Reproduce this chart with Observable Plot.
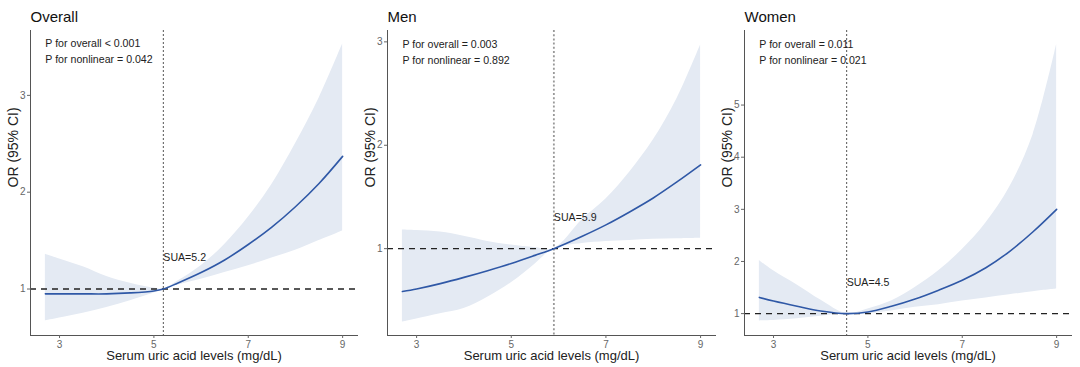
<!DOCTYPE html>
<html><head><meta charset="utf-8">
<script src="https://cdn.jsdelivr.net/npm/d3@7"></script>
<script src="https://cdn.jsdelivr.net/npm/@observablehq/plot@0.6"></script>
<style>
body{margin:0;background:#fff;font-family:"Liberation Sans",Arial,sans-serif;}
#wrap{position:relative;width:1080px;height:367px;overflow:hidden;}
.panel{position:absolute;top:0;}
</style></head><body><div id="wrap"></div>
<script>
// ---------- data ----------
const panelTitles = ["Overall", "Men", "Women"];
const xTickValues = [3, 5, 7, 9];
const xTitle = "Serum uric acid levels (mg/dL)";
const yTitle = "OR (95% CI)";

const overallX  = [2.7, 3.0, 3.5, 4.0, 4.5, 5.0, 5.2, 5.5, 6.0, 6.5, 7.0, 7.5, 8.0, 8.5, 9.0];
const overallOR = [0.95, 0.95, 0.95, 0.95, 0.96, 0.98, 1.0, 1.06, 1.17, 1.30, 1.46, 1.64, 1.85, 2.09, 2.37];
const overallLo = [0.67, 0.70, 0.75, 0.81, 0.88, 0.96, 1.0, 1.04, 1.10, 1.17, 1.24, 1.32, 1.40, 1.50, 1.60];
const overallHi = [1.36, 1.31, 1.23, 1.13, 1.06, 1.01, 1.0, 1.08, 1.24, 1.46, 1.74, 2.08, 2.50, 2.97, 3.53];

const menX  = [2.7, 3.0, 3.5, 4.0, 4.5, 5.0, 5.5, 5.9, 6.5, 7.0, 7.5, 8.0, 8.5, 9.0];
const menOR = [0.585, 0.61, 0.662, 0.722, 0.787, 0.857, 0.935, 1.0, 1.12, 1.23, 1.355, 1.49, 1.645, 1.81];
const menLo = [0.29, 0.32, 0.37, 0.42, 0.53, 0.67, 0.85, 1.0, 1.05, 1.07, 1.08, 1.09, 1.095, 1.10];
const menHi = [1.18, 1.175, 1.16, 1.12, 1.07, 1.035, 1.01, 1.0, 1.28, 1.48, 1.74, 2.05, 2.45, 2.97];

const womenX  = [2.7, 3.0, 3.5, 4.0, 4.55, 5.0, 5.5, 6.0, 6.5, 7.0, 7.5, 8.0, 8.5, 9.0];
const womenOR = [1.31, 1.24, 1.14, 1.05, 1.0, 1.03, 1.14, 1.28, 1.45, 1.64, 1.88, 2.19, 2.57, 3.0];
const womenLo = [0.86, 0.87, 0.90, 0.95, 1.0, 1.0, 1.05, 1.12, 1.17, 1.24, 1.30, 1.36, 1.42, 1.47];
const womenHi = [2.02, 1.82, 1.55, 1.26, 1.0, 1.09, 1.24, 1.50, 1.82, 2.23, 2.74, 3.42, 4.43, 6.16];

const yTickValues = [[1, 2, 3], [1, 2, 3], [1, 2, 3, 4, 5]];
const yDomains = [[0.52, 3.67], [0.16, 3.11], [0.58, 6.43]];
const refX = [5.2, 5.9, 4.55];
const refLabels = ["SUA=5.2", "SUA=5.9", "SUA=4.5"];
const refLabelY = [1.32, 1.30, 1.60];
const pOverall = ["P for overall < 0.001", "P for overall = 0.003", "P for overall = 0.011"];
const pNonlinear = ["P for nonlinear = 0.042", "P for nonlinear = 0.892", "P for nonlinear = 0.021"];

// ---------- layout ----------
const layouts = [
  {left: 0,   width: 360, ml: 30, mr: 3, dot: {stroke: "#555", strokeWidth: 1, strokeDasharray: "2,2"}},
  {left: 360, width: 358, ml: 27, mr: 3, dot: {stroke: "#999", strokeWidth: 1.8, strokeDasharray: "2,2.2"}},
  {left: 715, width: 360, ml: 29, mr: 4, dot: {stroke: "#555", strokeWidth: 1, strokeDasharray: "2,2"}}
];
const series = [
  [overallX, overallOR, overallLo, overallHi],
  [menX, menOR, menLo, menHi],
  [womenX, womenOR, womenLo, womenHi]
];
const FONT = "Liberation Sans, Arial, Helvetica, sans-serif";
const fmt = d3.format("~g");
const wrap = document.getElementById("wrap");

series.forEach(([xs, ors, los, his], i) => {
  const L = layouts[i];
  const rows = xs.map((x, j) => ({x, or: ors[j], lo: los[j], hi: his[j]}));
  const topY = d3.max(his);
  const chart = Plot.plot({
    width: L.width, height: 367,
    marginTop: 30, marginBottom: 32, marginLeft: L.ml, marginRight: L.mr,
    style: {fontFamily: FONT, background: "transparent", overflow: "visible"},
    x: {domain: [2.385, 9.315]},
    y: {domain: yDomains[i]},
    marks: [
      Plot.areaY(rows, {x: "x", y1: "lo", y2: "hi", fill: "#e4eaf3", curve: "catmull-rom"}),
      Plot.ruleY([1], {stroke: "#222", strokeWidth: 1.4, strokeDasharray: "6,5"}),
      Plot.ruleX([refX[i]], L.dot),
      Plot.line(rows, {x: "x", y: "or", stroke: "#2f58a6", strokeWidth: 1.6, curve: "catmull-rom"}),
      Plot.text([{x: xs[0], y: topY, t: pOverall[i]}], {x: "x", y: "y", text: "t", textAnchor: "start", lineAnchor: "middle", fontSize: 10.6, fill: "#222"}),
      Plot.text([{x: xs[0], y: topY, t: pNonlinear[i]}], {x: "x", y: "y", text: "t", textAnchor: "start", lineAnchor: "middle", dy: 15.6, fontSize: 10.6, fill: "#222"}),
      Plot.text([{x: refX[i], y: refLabelY[i], t: refLabels[i]}], {x: "x", y: "y", text: "t", textAnchor: "start", lineAnchor: "middle", fontSize: 10.6, fill: "#222"}),
      Plot.frame({anchor: "left", stroke: "#555"}),
      Plot.frame({anchor: "bottom", stroke: "#555"}),
      Plot.axisX({ticks: xTickValues, tickFormat: fmt, tickSize: 3, tickPadding: 2, fontSize: 10, color: "#666", label: null}),
      Plot.axisY({ticks: yTickValues[i], tickFormat: fmt, tickSize: 3, tickPadding: 2, fontSize: 10, color: "#666", label: null}),
      Plot.text([xTitle], {frameAnchor: "bottom", lineAnchor: "bottom", dy: 24, fontSize: 13, fill: "#222"}),
      Plot.text([yTitle], {frameAnchor: "left", rotate: -90, lineAnchor: "top", dx: -22.5, dy: 4.5, fontSize: 14, fill: "#222"}),
      Plot.text([panelTitles[i]], {frameAnchor: "top-left", textAnchor: "start", lineAnchor: "bottom", dy: -8.3, fontSize: 15, fill: "#111"})
    ]
  });
  chart.classList.add("panel");
  chart.style.left = L.left + "px";
  wrap.appendChild(chart);
});
</script>
</body></html>
